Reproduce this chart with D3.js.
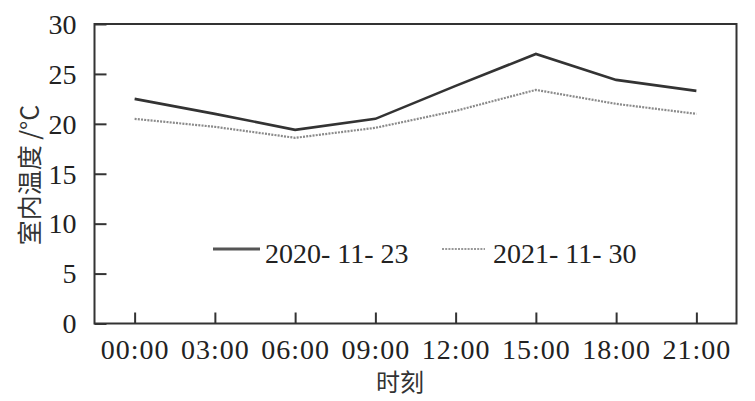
<!DOCTYPE html>
<html><head><meta charset="utf-8">
<script src="https://cdn.jsdelivr.net/npm/d3@7"></script>
<style>body{margin:0;background:#fff;}svg{display:block;}</style>
</head><body>
<svg id="c" width="755" height="401"></svg>
<script>
const categories = ["00:00","03:00","06:00","09:00","12:00","15:00","18:00","21:00"];
const series2020 = [22.5, 21.0, 19.4, 20.5, 23.8, 27.0, 24.4, 23.3];
const series2021 = [20.5, 19.7, 18.6, 19.6, 21.3, 23.4, 22.0, 21.0];
const seriesNames = ["2020- 11- 23", "2021- 11- 30"];
const yTicks = [0,5,10,15,20,25,30];

const svg = d3.select("#c");
const L = 94.5, R = 736.5, T = 24, B = 323.5;
const serif = "'Liberation Serif','Times New Roman',serif";
const cjk = "'Noto Sans CJK SC','Liberation Serif',serif";
const x = d3.scalePoint().domain(categories).range([L, R]).padding(0.5);
const y = d3.scaleLinear().domain([0, 30]).range([B, T]);

// frame
svg.append("rect").attr("x", L).attr("y", T).attr("width", R - L).attr("height", B - T)
  .attr("fill", "none").attr("stroke", "#333").attr("stroke-width", 2);

// y axis
const ya = svg.append("g").attr("transform", `translate(${L},0)`)
  .call(d3.axisLeft(y).tickValues(yTicks).tickSizeInner(-12).tickSizeOuter(0).tickPadding(18));
ya.select(".domain").remove();
ya.selectAll(".tick line").attr("stroke", "#333").attr("stroke-width", 2);
ya.selectAll(".tick text").attr("font-family", serif).attr("font-size", 28).attr("fill", "#222")
  .attr("dy", "0.33em");

// x axis
const xa = svg.append("g").attr("transform", `translate(0,${B})`)
  .call(d3.axisBottom(x).tickSizeInner(-11).tickSizeOuter(0));
xa.select(".domain").remove();
xa.selectAll(".tick line").attr("stroke", "#333").attr("stroke-width", 2);
xa.selectAll(".tick text").attr("font-family", serif).attr("font-size", 28).attr("fill", "#222")
  .attr("y", 35).attr("dy", 0).attr("letter-spacing", "1px");

// lines
const line = d3.line().x((d, i) => x(categories[i])).y(d => y(d));
svg.append("path").datum(series2021).attr("d", line).attr("fill", "none")
  .attr("stroke", "#8a8a8a").attr("stroke-width", 2.2).attr("stroke-dasharray", "2,1.2");
svg.append("path").datum(series2020).attr("d", line).attr("fill", "none")
  .attr("stroke", "#333").attr("stroke-width", 2.6);

// legend
const lg = svg.append("g");
lg.append("line").attr("x1", 213).attr("x2", 260).attr("y1", 249).attr("y2", 249)
  .attr("stroke", "#555").attr("stroke-width", 3);
lg.append("text").attr("x", 265).attr("y", 263).text(seriesNames[0])
  .attr("font-family", serif).attr("font-size", 28).attr("fill", "#222");
lg.append("line").attr("x1", 442).attr("x2", 485).attr("y1", 249).attr("y2", 249)
  .attr("stroke", "#999").attr("stroke-width", 2.2).attr("stroke-dasharray", "2,1.2");
lg.append("text").attr("x", 493).attr("y", 263).text(seriesNames[1])
  .attr("font-family", serif).attr("font-size", 28).attr("fill", "#222");

// titles
svg.append("text").attr("transform", "translate(39,175) rotate(-90)").attr("text-anchor", "middle")
  .attr("font-family", cjk).attr("font-size", 25).attr("fill", "#333").text("室内温度 /°C");
svg.append("text").attr("x", 400).attr("y", 391).attr("text-anchor", "middle")
  .attr("font-family", cjk).attr("font-size", 24).attr("fill", "#333").text("时刻");
</script>
</body></html>
